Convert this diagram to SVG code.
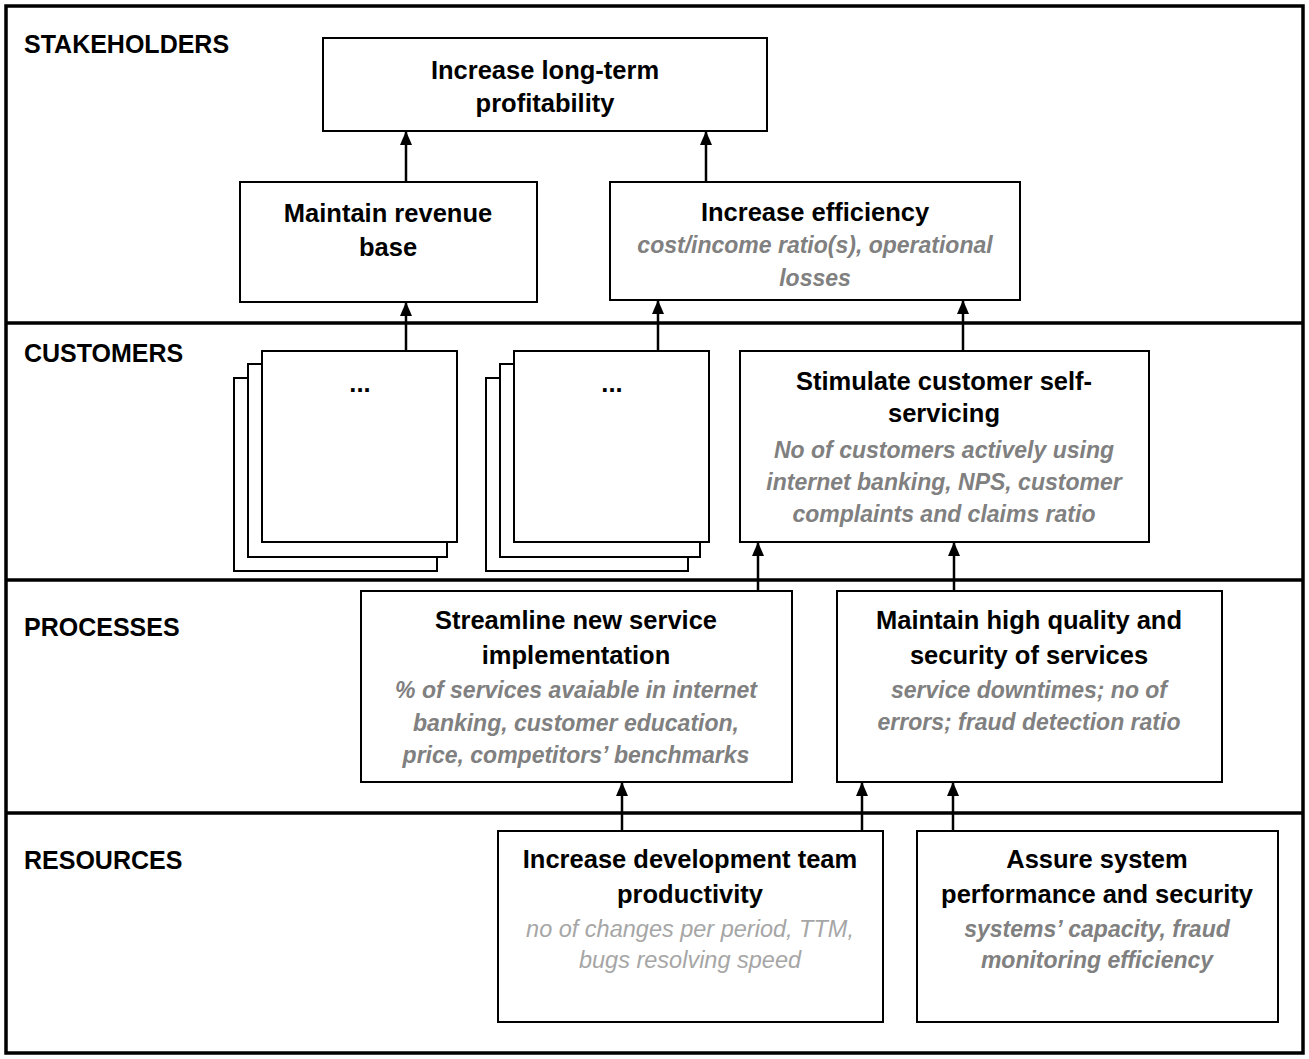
<svg xmlns="http://www.w3.org/2000/svg" width="1309" height="1059" viewBox="0 0 1309 1059">
<style>
.box{fill:#fff;stroke:#000;stroke-width:2}
.lbl{font-family:"Liberation Sans",Arial,sans-serif;font-weight:bold;font-size:25px;fill:#000}
.t{font-family:"Liberation Sans",Arial,sans-serif;font-weight:bold;font-size:25.5px;fill:#000;text-anchor:middle}
.g{font-family:"Liberation Sans",Arial,sans-serif;font-weight:bold;font-style:italic;font-size:23px;fill:#808080;text-anchor:middle}
.gl{font-family:"Liberation Sans",Arial,sans-serif;font-style:italic;font-size:23.5px;fill:#a6a6a6;text-anchor:middle}
.sep{stroke:#000;stroke-width:3.5}
.conn{stroke:#000;stroke-width:2.5;fill:none;marker-end:url(#ah)}
</style>
<defs>
<marker id="ah" markerUnits="userSpaceOnUse" markerWidth="14" markerHeight="12" refX="13" refY="6" orient="auto" viewBox="0 0 14 12">
<path d="M0,0 L14,6 L0,12 Z" fill="#000"/>
</marker>
</defs>
<rect x="0" y="0" width="1309" height="1059" fill="#fff"/>
<g id="frame">
<rect x="6" y="6" width="1297" height="1047" fill="none" stroke="#000" stroke-width="3.5"/>
<line class="sep" x1="6" y1="323" x2="1303" y2="323"/>
<line class="sep" x1="6" y1="580" x2="1303" y2="580"/>
<line class="sep" x1="6" y1="813" x2="1303" y2="813"/>
<text class="lbl" x="24" y="53">STAKEHOLDERS</text>
<text class="lbl" x="24" y="362">CUSTOMERS</text>
<text class="lbl" x="24" y="636">PROCESSES</text>
<text class="lbl" x="24" y="869">RESOURCES</text>
</g>
<g id="connectors">
<line class="conn" x1="406" y1="182" x2="406" y2="132"/>
<line class="conn" x1="706" y1="182" x2="706" y2="132"/>
<line class="conn" x1="406" y1="351" x2="406" y2="303"/>
<line class="conn" x1="658" y1="351" x2="658" y2="301"/>
<line class="conn" x1="963" y1="351" x2="963" y2="301"/>
<line class="conn" x1="758" y1="591" x2="758" y2="543"/>
<line class="conn" x1="954" y1="591" x2="954" y2="543"/>
<line class="conn" x1="622" y1="831" x2="622" y2="783"/>
<line class="conn" x1="862" y1="831" x2="862" y2="783"/>
<line class="conn" x1="953" y1="831" x2="953" y2="783"/>
</g>
<g id="profitability">
<rect class="box" x="323" y="38" width="444" height="93"/>
<text class="t" x="545" y="79">Increase long-term</text>
<text class="t" x="545" y="112">profitability</text>
</g>
<g id="revenue">
<rect class="box" x="240" y="182" width="297" height="120"/>
<text class="t" x="388" y="222">Maintain revenue</text>
<text class="t" x="388" y="256">base</text>
</g>
<g id="efficiency">
<rect class="box" x="610" y="182" width="410" height="118"/>
<text class="t" x="815" y="221">Increase efficiency</text>
<text class="g" x="815" y="253">cost/income ratio(s), operational</text>
<text class="g" x="815" y="286">losses</text>
</g>
<g id="customers-stack-1">
<rect class="box" x="234" y="378" width="203" height="193"/>
<rect class="box" x="248" y="364" width="199" height="193"/>
<rect class="box" x="262" y="351" width="195" height="191"/>
<text class="t" x="360" y="392">...</text>
</g>
<g id="customers-stack-2">
<rect class="box" x="486" y="378" width="202" height="193"/>
<rect class="box" x="500" y="364" width="200" height="193"/>
<rect class="box" x="514" y="351" width="195" height="191"/>
<text class="t" x="612" y="392">...</text>
</g>
<g id="self-servicing">
<rect class="box" x="740" y="351" width="409" height="191"/>
<text class="t" x="944" y="390">Stimulate customer self-</text>
<text class="t" x="944" y="422">servicing</text>
<text class="g" x="944" y="458">No of customers actively using</text>
<text class="g" x="944" y="490">internet banking, NPS, customer</text>
<text class="g" x="944" y="522">complaints and claims ratio</text>
</g>
<g id="streamline">
<rect class="box" x="361" y="591" width="431" height="191"/>
<text class="t" x="576" y="629">Streamline new service</text>
<text class="t" x="576" y="664">implementation</text>
<text class="g" x="576" y="698">% of services avaiable in internet</text>
<text class="g" x="576" y="731">banking, customer education,</text>
<text class="g" x="576" y="763">price, competitors’ benchmarks</text>
</g>
<g id="quality">
<rect class="box" x="837" y="591" width="385" height="191"/>
<text class="t" x="1029" y="629">Maintain high quality and</text>
<text class="t" x="1029" y="664">security of services</text>
<text class="g" x="1029" y="698">service downtimes; no of</text>
<text class="g" x="1029" y="730">errors; fraud detection ratio</text>
</g>
<g id="productivity">
<rect class="box" x="498" y="831" width="385" height="191"/>
<text class="t" x="690" y="868">Increase development team</text>
<text class="t" x="690" y="903">productivity</text>
<text class="gl" x="690" y="937">no of changes per period, TTM,</text>
<text class="gl" x="690" y="968">bugs resolving speed</text>
</g>
<g id="performance">
<rect class="box" x="917" y="831" width="361" height="191"/>
<text class="t" x="1097" y="868">Assure system</text>
<text class="t" x="1097" y="903">performance and security</text>
<text class="g" x="1097" y="937">systems’ capacity, fraud</text>
<text class="g" x="1097" y="968">monitoring efficiency</text>
</g>
</svg>
